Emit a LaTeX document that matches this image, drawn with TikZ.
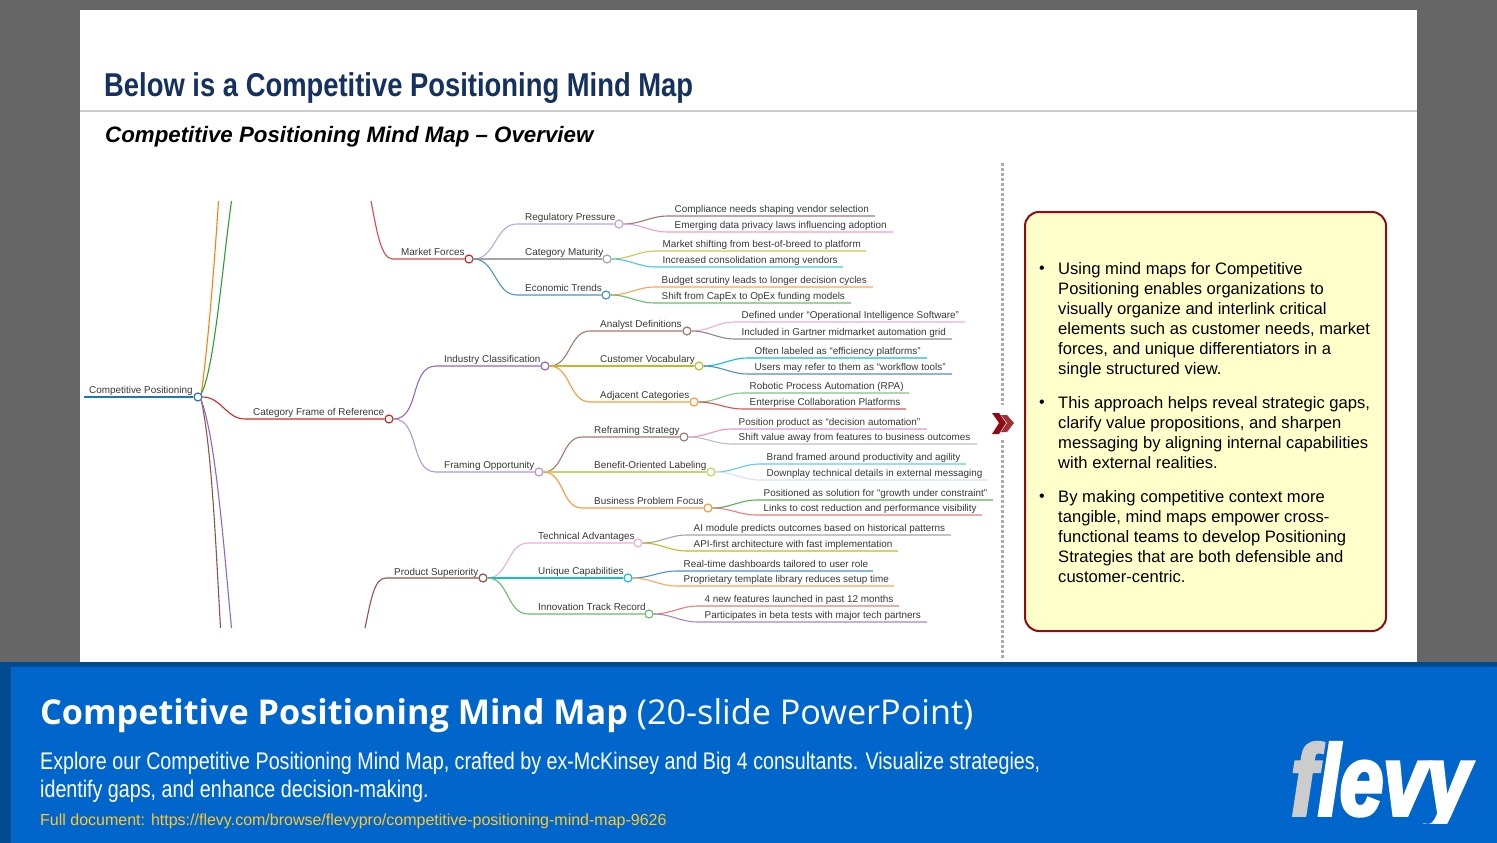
\documentclass[tikz,border=0pt]{standalone}
\usepackage{fontspec}
\usepackage{tikz}
\setmainfont{Liberation Sans}
\newfontfamily\narrowfont[FakeStretch=0.83]{Liberation Sans}
\newfontfamily\slimfont[FakeStretch=0.82]{Liberation Sans}
\newfontfamily\bannerfont{Open Sans}
\newfontfamily\logofont[FakeStretch=0.78,FakeBold=3.5]{Liberation Sans}
\definecolor{slidegrey}{HTML}{666666}
\definecolor{navy}{HTML}{14315F}
\definecolor{bandblue}{HTML}{0066CC}
\definecolor{banddark}{HTML}{004A8F}
\definecolor{boxred}{HTML}{8F0D12}
\definecolor{boxfill}{HTML}{FFFFCC}
\definecolor{linkyellow}{HTML}{FFC72C}
\definecolor{mapblue}{HTML}{1F77B4}
\definecolor{maporange}{HTML}{FF7F0E}
\definecolor{mapgreen}{HTML}{2CA02C}
\definecolor{mapred}{HTML}{D62728}
\definecolor{mappurple}{HTML}{9467BD}
\definecolor{mapbrown}{HTML}{8C564B}
\definecolor{mappink}{HTML}{E377C2}
\definecolor{mapgrey}{HTML}{7F7F7F}
\definecolor{mapolive}{HTML}{BCBD22}
\definecolor{mapcyan}{HTML}{17BECF}
\tikzset{
  maplabel/.style={anchor=base west,inner sep=0pt,text=black!78,font=\fontsize{9.9}{12}\selectfont},
  mapline/.style={line width=1.1pt},
  mapdot/.style={circle,draw=#1,fill=white,line width=1.2pt,inner sep=0pt,minimum size=8pt},
  bodytext/.style={anchor=north west,inner sep=0pt,align=left,font=\fontsize{16.6}{20}\selectfont},
  bodydot/.style={anchor=base west,inner sep=0pt,font=\fontsize{16}{20}\selectfont},
  dividerline/.style={black!33,line width=3pt,dash pattern=on 3pt off 2pt},
}
% parent, name, colour, line start x, dot x, y, text x, text
\newcommand{\bough}[8]{
  \node[mapdot=#3] (#2) at (#5,#6) {};
  \coordinate (#2bend) at (#4,#6);
  \draw[mapline,#3] (#1.east) to[out=0,in=180] (#2bend) -- (#2.west);
  \node[maplabel] (#2text) at (#7,#6-3.5) {#8};
}
% parent, name, colour, line start x, line end x, y, text
\newcommand{\twig}[7]{
  \coordinate (#2bend) at (#4,#6);
  \coordinate (#2end) at (#5,#6);
  \draw[mapline,#3] (#1.east) to[out=0,in=180] (#2bend) -- (#2end);
  \node[maplabel] (#2text) at (#4+6.5,#6-3.5) {#7};
}
\begin{document}
\begin{tikzpicture}[x=1pt,y=-1pt]
  \useasboundingbox (0,0) rectangle (1497,843);
  \fill[slidegrey] (0,0) rectangle (1497,843);
  \fill[white] (80,10) rectangle (1417,662);

  \node[anchor=base west,inner sep=0pt,text=navy,font=\narrowfont\bfseries\fontsize{33}{36}\selectfont] (title) at (104,96) {Below is a Competitive Positioning Mind Map};
  \draw[black!20,line width=1.5pt] (80,111) -- (1417,111);
  \node[anchor=base west,inner sep=0pt,font=\bfseries\itshape\fontsize{22.3}{26}\selectfont] (subtitle) at (105,142) {Competitive Positioning Mind Map -- Overview};

  % root and the cut trunks
  \node[mapdot=mapblue] (root) at (198,397) {};
  \coordinate (rootstart) at (84,397);
  \draw[mapline,mapblue] (rootstart) -- (root.west);
  \node[maplabel] (roottext) at (89,393.5) {Competitive Positioning};
  \coordinate (cutorange) at (218.5,201);
  \coordinate (cutgreen) at (231.5,201);
  \coordinate (cutbrown) at (220.5,628);
  \coordinate (cutpurple) at (231.5,628);
  \coordinate (cutforces) at (371,201);
  \coordinate (cutproduct) at (365,628);
  \draw[mapline,maporange] (root.north east) .. controls (208,345) and (214,270) .. (cutorange);
  \draw[mapline,mapgreen] (root.north east) .. controls (214,370) and (222,270) .. (cutgreen);
  \draw[mapline,mapbrown] (root.south east) .. controls (212,450) and (216,550) .. (cutbrown);
  \draw[mapline,mappurple] (root.south east) .. controls (216,440) and (224,550) .. (cutpurple);

  % category frame
  \node[mapdot=mapred] (frame) at (389,419) {};
  \coordinate (framebend) at (245,419);
  \draw[mapline,mapred] (root.east) to[out=0,in=180] (framebend) -- (frame.west);
  \node[maplabel] (frametext) at (253,415.5) {Category Frame of Reference};

  % market forces
  \node[mapdot=mapred] (forces) at (469,259) {};
  \coordinate (forcesbend) at (393,259);
  \draw[mapline,mapred!85] (cutforces) .. controls (377,232) and (381,259) .. (forcesbend) -- (forces.west);
  \node[maplabel] (forcestext) at (401,255.5) {Market Forces};
  \bough{forces}{regulatory}{mappurple!60}{517}{619}{224}{525}{Regulatory Pressure}
  \bough{forces}{maturity}{mapgrey!70}{517}{607}{259}{525}{Category Maturity}
  \bough{forces}{economic}{mapblue!80}{517}{606}{295}{525}{Economic Trends}
  \twig{regulatory}{compliance}{mapbrown!80}{668}{875}{216}{Compliance needs shaping vendor selection}
  \twig{regulatory}{emerging}{mappink!70}{668}{893}{232}{Emerging data privacy laws influencing adoption}
  \twig{maturity}{shifting}{mapolive!80}{656}{866}{251}{Market shifting from best-of-breed to platform}
  \twig{maturity}{consolidation}{mapcyan!80}{656}{843}{267}{Increased consolidation among vendors}
  \twig{economic}{budget}{maporange!70}{655}{873}{287}{Budget scrutiny leads to longer decision cycles}
  \twig{economic}{capex}{mapgreen!70}{655}{851}{303}{Shift from CapEx to OpEx funding models}

  % industry classification
  \bough{frame}{industry}{mappurple}{436}{545}{366}{444}{Industry Classification}
  \bough{industry}{analyst}{mapbrown!80}{590}{687}{331}{600}{Analyst Definitions}
  \bough{industry}{vocabulary}{mapolive}{590}{699}{366}{600}{Customer Vocabulary}
  \bough{industry}{adjacent}{maporange!80}{590}{694}{402}{600}{Adjacent Categories}
  \twig{analyst}{defined}{mappink!60}{735}{965}{322}{Defined under ``Operational Intelligence Software''}
  \twig{analyst}{gartner}{mapgrey!90}{735}{952}{339}{Included in Gartner midmarket automation grid}
  \twig{vocabulary}{often}{mapcyan}{748}{927}{358}{Often labeled as ``efficiency platforms''}
  \twig{vocabulary}{users}{mapblue!80}{748}{952}{374}{Users may refer to them as ``workflow tools''}
  \twig{adjacent}{robotic}{mapgreen!60}{743}{909}{393}{Robotic Process Automation (RPA)}
  \twig{adjacent}{enterprise}{mapred!80}{743}{906}{409}{Enterprise Collaboration Platforms}

  % framing opportunity
  \bough{frame}{framing}{mappurple!70}{436}{539}{472}{444}{Framing Opportunity}
  \bough{framing}{reframing}{mapbrown!80}{582}{684}{437}{594}{Reframing Strategy}
  \bough{framing}{benefit}{mapolive!70}{582}{711}{472}{594}{Benefit-Oriented Labeling}
  \bough{framing}{problem}{maporange!80}{582}{708}{508}{594}{Business Problem Focus}
  \twig{reframing}{position}{mappink!80}{732}{927}{429}{Position product as ``decision automation''}
  \twig{reframing}{away}{mapgrey!50}{732}{977}{444}{Shift value away from features to business outcomes}
  \twig{benefit}{brand}{mapcyan!70}{760}{966}{464}{Brand framed around productivity and agility}
  \twig{benefit}{downplay}{mapblue!20}{760}{988}{480}{Downplay technical details in external messaging}
  \twig{problem}{growth}{mapgreen!80}{757}{993}{500}{Positioned as solution for ``growth under constraint''}
  \twig{problem}{links}{mapred!60}{757}{982}{515}{Links to cost reduction and performance visibility}

  % product superiority
  \node[mapdot=mapbrown] (product) at (483,578) {};
  \coordinate (productbend) at (386,578);
  \draw[mapline,mapbrown] (cutproduct) .. controls (371,600) and (374,578) .. (productbend) -- (product.west);
  \node[maplabel] (producttext) at (394,575.5) {Product Superiority};
  \bough{product}{technical}{mappink!60}{528}{638}{543}{538}{Technical Advantages}
  \bough{product}{unique}{mapcyan}{528}{628}{578}{538}{Unique Capabilities}
  \bough{product}{innovation}{mapgreen!70}{528}{649}{614}{538}{Innovation Track Record}
  \twig{technical}{predicts}{mapgrey!70}{687}{951}{535}{AI module predicts outcomes based on historical patterns}
  \twig{technical}{api}{mapolive}{687}{898}{551}{API-first architecture with fast implementation}
  \twig{unique}{realtime}{mapblue!80}{677}{873}{571}{Real-time dashboards tailored to user role}
  \twig{unique}{proprietary}{maporange!70}{677}{894}{586}{Proprietary template library reduces setup time}
  \twig{innovation}{features}{mapred!60}{698}{899}{606}{4 new features launched in past 12 months}
  \twig{innovation}{partners}{mappurple!80}{698}{927}{622}{Participates in beta tests with major tech partners}

  % divider and chevrons
  \draw[dividerline] (1002.5,163) -- (1002.5,405);
  \draw[dividerline] (1002.5,440) -- (1002.5,660);
  \fill[boxred] (992,413) -- (999,413) -- (1006,423) -- (999,434) -- (992,434) -- (999,423) -- cycle;
  \fill[boxred!85!white] (1001,415) -- (1007,415) -- (1014,423) -- (1007,432) -- (1001,432) -- (1007,423) -- cycle;

  % side box
  \draw[boxred,fill=boxfill,line width=2pt,rounded corners=14pt] (1025,212) rectangle (1386,631);
  \node[bodydot] (dota) at (1039,273) {•};
  \node[bodydot] (dotb) at (1039,407) {•};
  \node[bodydot] (dotc) at (1039,501) {•};
  \node[bodytext] (parta) at (1058,262) {Using mind maps for Competitive\\Positioning enables organizations to\\visually organize and interlink critical\\elements such as customer needs, market\\forces, and unique differentiators in a\\single structured view.};
  \node[bodytext] (partb) at (1058,396) {This approach helps reveal strategic gaps,\\clarify value propositions, and sharpen\\messaging by aligning internal capabilities\\with external realities.};
  \node[bodytext] (partc) at (1058,490) {By making competitive context more\\tangible, mind maps empower cross-\\functional teams to develop Positioning\\Strategies that are both defensible and\\customer-centric.};

  % banner
  \fill[bandblue] (0,662) rectangle (1497,843);
  \fill[banddark] (0,662) rectangle (1497,667);
  \fill[banddark] (0,662) rectangle (11,843);
  \node[anchor=base west,inner sep=0pt,text=white,font=\bannerfont\fontsize{34.2}{40}\selectfont] (bannertitle) at (40,724) {\textbf{Competitive Positioning Mind Map} (20-slide PowerPoint)};
  \node[anchor=base west,inner sep=0pt,text=white,font=\slimfont\fontsize{24}{28}\selectfont] (bannerone) at (40,769) {Explore our Competitive Positioning Mind Map, crafted by ex-McKinsey and Big 4 consultants. Visualize strategies,};
  \node[anchor=base west,inner sep=0pt,text=white,font=\slimfont\fontsize{24}{28}\selectfont] (bannertwo) at (40,797) {identify gaps, and enhance decision-making.};
  \node[anchor=base west,inner sep=0pt,text=linkyellow,font=\fontsize{16}{20}\selectfont] (bannerlink) at (40,825) {Full document: https://flevy.com/browse/flevypro/competitive-positioning-mind-map-9626};
  \begin{scope}
    \clip (1280,735) rectangle (1490,823);
    \node[anchor=base west,inner sep=0pt,text=black!20,font=\logofont\bfseries\itshape\fontsize{100}{100}\selectfont] (logof) at (1291,815) {f};
    \node[anchor=base west,inner sep=0pt,text=white,font=\logofont\bfseries\itshape\fontsize{100}{100}\selectfont] (logolevy) at (1318,815) {levy};
  \end{scope}
\end{tikzpicture}
\end{document}
